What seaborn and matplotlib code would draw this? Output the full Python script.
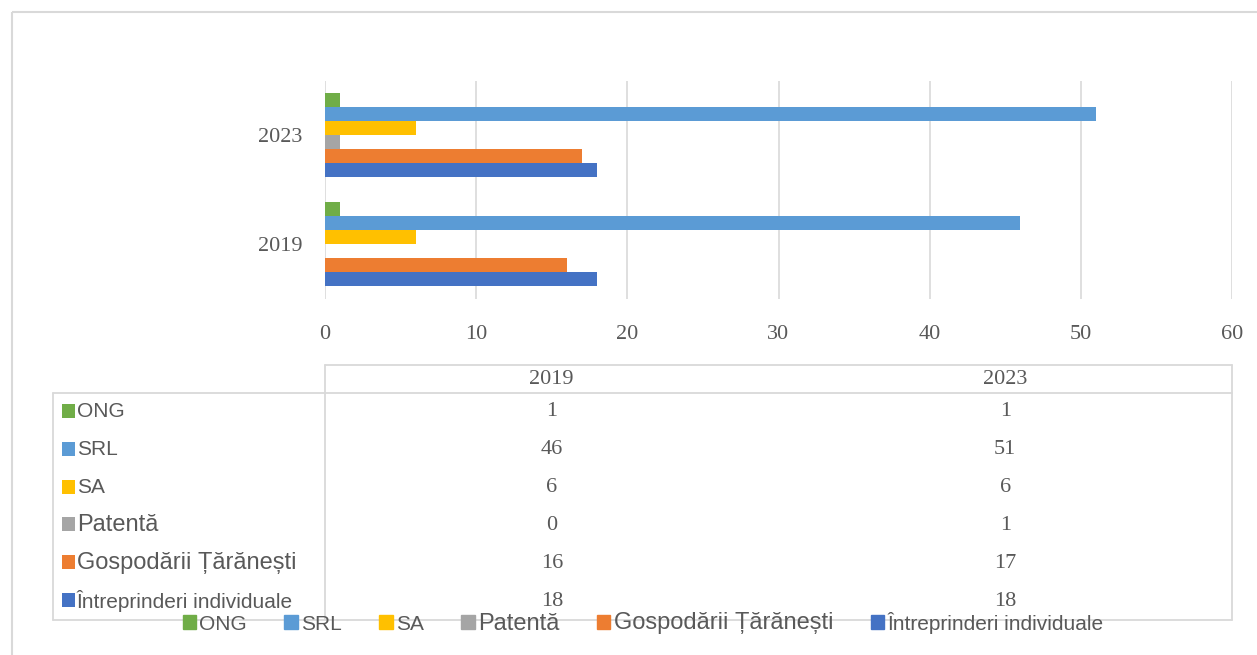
import matplotlib
matplotlib.use('Agg')
import matplotlib.pyplot as plt
from matplotlib.patches import Patch, Rectangle
import seaborn as sns
import pandas as pd

# data (series order as in Excel: first series drawn at bottom)
years = ['2019', '2023']
types = ['Întreprinderi individuale', 'Gospodării Țărănești', 'Patentă', 'SA', 'SRL', 'ONG']
vals_2019 = [18, 16, 0, 6, 46, 1]
vals_2023 = [18, 17, 1, 6, 51, 1]
colors = ['#4472C4', '#ED7D31', '#A5A5A5', '#FFC000', '#5B9BD5', '#70AD47']
x_ticks = [0, 10, 20, 30, 40, 50, 60]

rows = []
for t, a, b in zip(types, vals_2019, vals_2023):
    rows.append({'year': '2019', 'type': t, 'value': a})
    rows.append({'year': '2023', 'type': t, 'value': b})
df = pd.DataFrame(rows)
palette = dict(zip(types, colors))
top_down = types[::-1]
big_labels = {'Patentă', 'Gospodării Țărănești'}

sns.set_style('white')
txt = '#595959'
grid = '#d9d9d9'
W, H = 1257, 655

fig = plt.figure(figsize=(W / 100, H / 100), dpi=100)

# background layer in pixel coords: chart border + data table
tax = fig.add_axes([0, 0, 1, 1])
tax.set_xlim(0, W)
tax.set_ylim(H, 0)
tax.axis('off')
tax.add_patch(Rectangle((12, 12), W, H, fill=False, ec=grid, lw=1.5))

tab_l, col0, tab_r = 53, 325, 1232
head_t, head_b, tab_b = 365, 393, 620
lk = dict(color=grid, lw=1.3)
tax.plot([col0, tab_r], [head_t, head_t], **lk)
tax.plot([tab_l, tab_r], [head_b, head_b], **lk)
tax.plot([tab_l, tab_r], [tab_b, tab_b], **lk)
tax.plot([tab_l, tab_l], [head_b, tab_b], **lk)
tax.plot([col0, col0], [head_t, tab_b], **lk)
tax.plot([tab_r, tab_r], [head_t, tab_b], **lk)

col_w = (tab_r - col0) / 2
col_c = [col0 + col_w * 0.5, col0 + col_w * 1.5]
serif = dict(family='Liberation Serif', size=16, color=txt, ha='center', va='center')
for c, y in zip(col_c, years):
    tax.text(c, (head_t + head_b) / 2 + 1, y, **serif)

row_h = (tab_b - head_b) / 6
for i, t in enumerate(top_down):
    yc = head_b + row_h * (i + 0.5)
    k = types.index(t)
    tax.add_patch(Rectangle((62, yc - 8), 13, 14, color=palette[t], lw=0))
    fs = 17 if t in big_labels else 15
    tax.text(77, yc, t, family='Liberation Sans', size=fs, color=txt, va='center', ha='left')
    tax.text(col_c[0], yc, str(vals_2019[k]), **serif)
    tax.text(col_c[1], yc, str(vals_2023[k]), **serif)

# bar chart
ax = fig.add_axes([col0 / W, 1 - 298.5 / H, (tab_r - col0) / W, 218 / H])
ax.set_facecolor('none')
sns.barplot(data=df, x='value', y='year', hue='type', order=['2023', '2019'],
            hue_order=top_down, palette=palette, orient='h', width=0.77,
            saturation=1, linewidth=0, legend=False, ax=ax)
ax.set_xlim(0, 60)
ax.set_xticks(x_ticks)
ax.set_xticklabels([str(v) for v in x_ticks])
ax.grid(axis='x', color=grid, lw=1.2)
ax.grid(axis='y', visible=False)
ax.set_axisbelow(True)
for s in ax.spines.values():
    s.set_visible(False)
ax.tick_params(axis='x', length=0, pad=19, labelcolor=txt)
ax.tick_params(axis='y', length=0, pad=16, labelcolor=txt)
for lab in ax.get_xticklabels() + ax.get_yticklabels():
    lab.set_fontfamily('Liberation Serif')
    lab.set_fontsize(16)
ax.set_xlabel('')
ax.set_ylabel('')

handles = [Patch(color=palette[t]) for t in top_down]
leg = fig.legend(handles, top_down, loc='center', bbox_to_anchor=(643 / W, 1 - 623 / H),
                 ncol=6, frameon=False, handlelength=0.65, handleheight=0.65,
                 handletextpad=0.15, columnspacing=1.8,
                 prop={'family': 'Liberation Sans', 'size': 15}, labelcolor=txt)
for t in leg.get_texts():
    if t.get_text() in big_labels:
        t.set_fontsize(17)

fig.savefig('out.png', dpi=100)
